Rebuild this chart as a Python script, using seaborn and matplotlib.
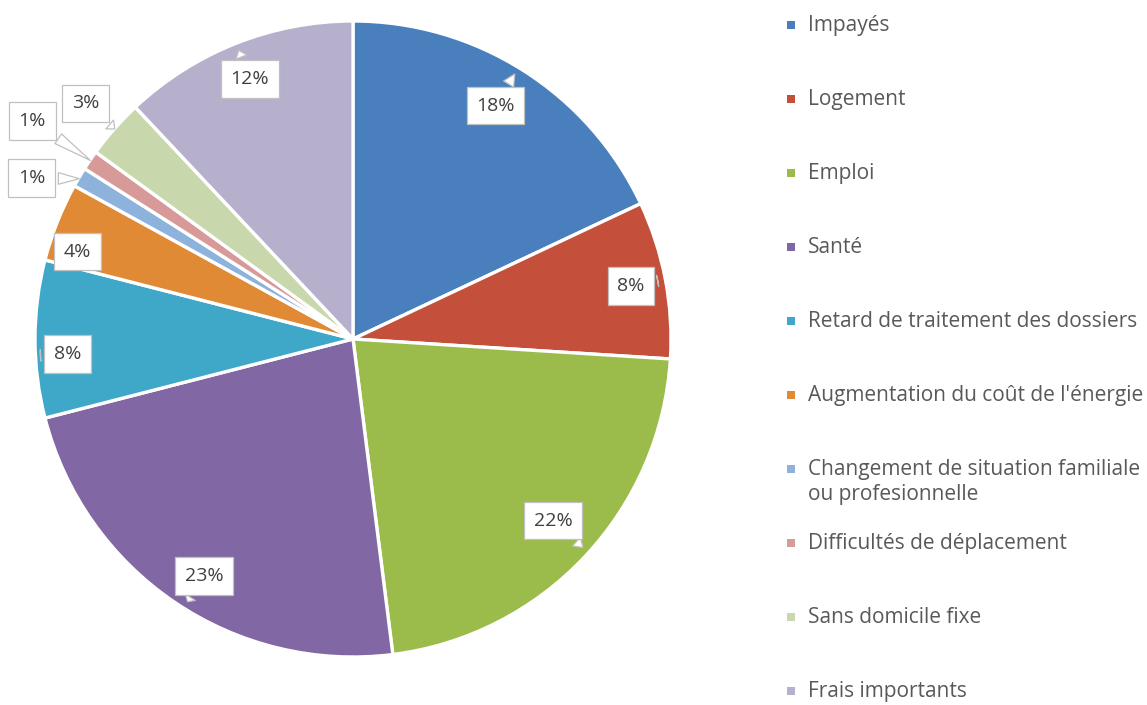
import numpy as np
import matplotlib
matplotlib.use("Agg")
import matplotlib.pyplot as plt
import seaborn as sns
from matplotlib.patches import Rectangle

categories = ["Impayés", "Logement", "Emploi", "Santé", "Retard de traitement des dossiers",
              "Augmentation du coût de l'énergie",
              "Changement de situation familiale\nou profesionnelle",
              "Difficultés de déplacement", "Sans domicile fixe", "Frais importants"]
values = [18, 8, 22, 23, 8, 4, 1, 1, 3, 12]
pct_labels = ["18%", "8%", "22%", "23%", "8%", "4%", "1%", "1%", "3%", "12%"]
colors = ["#4a7fbd", "#c4503c", "#9bbb4a", "#8168a4", "#3fa8c8",
          "#e08a35", "#8db3dd", "#d89a98", "#c9d7ad", "#b7b0cd"]

# label layout (radius factor, angle offset in degrees)
label_r = [0.86, 0.89, 0.85, 0.88, 0.90, 0.91, 1.13, 1.22, 1.12, 0.88]
label_da = [1, 0, 1, 2, 3, 4, 4, 0, 0, 0]

sns.set_theme(style="white")
plt.rcParams['font.family'] = ['Open Sans', 'DejaVu Sans']

W, H = 1147, 705
fig = plt.figure(figsize=(W / 100, H / 100), dpi=100)
cx, cy, R = 353, 339, 318
ax = fig.add_axes([(cx - R) / W, (H - cy - R) / H, 2 * R / W, 2 * R / H])

wedges, _ = ax.pie(values, colors=colors, startangle=90, counterclock=False, radius=1,
                   wedgeprops=dict(edgecolor="white", linewidth=2.4))
ax.set_xlim(-1, 1)
ax.set_ylim(-1, 1)
ax.set_aspect("equal")
ax.axis("off")

for w, lab, r, da in zip(wedges, pct_labels, label_r, label_da):
    mid0 = np.deg2rad((w.theta1 + w.theta2) / 2)
    mid = np.deg2rad((w.theta1 + w.theta2) / 2 + da)
    tx, ty = r * np.cos(mid), r * np.sin(mid)
    if r < 1:
        px, py = 0.985 * np.cos(mid), 0.985 * np.sin(mid)
    else:
        px, py = 0.99 * np.cos(mid0), 0.99 * np.sin(mid0)
    ax.annotate(lab, xy=(px, py), xytext=(tx, ty), ha="center", va="center",
                fontsize=14, color="#404040",
                bbox=dict(boxstyle="square,pad=0.5", fc="white", ec="#c0c0c0", lw=0.9),
                arrowprops=dict(arrowstyle="wedge,tail_width=0.6,shrink_factor=0.5",
                                fc="white", ec="#c0c0c0", lw=0.9),
                annotation_clip=False)

# legend
for i, (cat, col) in enumerate(zip(categories, colors)):
    y = 25 + 74 * i
    fig.patches.append(Rectangle((787 / W, 1 - (y + 4) / H), 8 / W, 8 / H,
                                 transform=fig.transFigure, fc=col, ec="none"))
    fig.text(808 / W, 1 - (y - 10) / H, cat, ha="left", va="top", fontsize=15,
             color="#595959", linespacing=1.25)

fig.savefig("out.png", dpi=100, facecolor="white")
